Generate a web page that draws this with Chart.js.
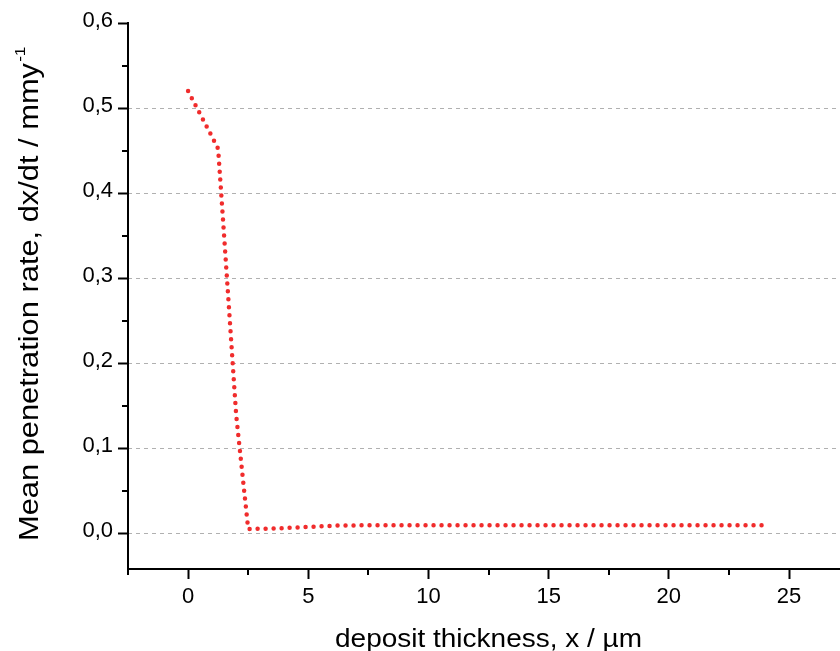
<!DOCTYPE html>
<html>
<head>
<meta charset="utf-8">
<script src="https://cdn.jsdelivr.net/npm/chart.js@4.4.1/dist/chart.umd.min.js"></script>
<style>
  html, body { margin: 0; padding: 0; background: #ffffff; }
  #wrap { width: 840px; height: 651px; position: relative; }
</style>
</head>
<body>
<div id="wrap"><canvas id="chart" width="840" height="651"></canvas></div>
<script>
// Mean penetration rate against deposit thickness
const thicknessUm = [0, 1.0, 1.25, 1.5, 1.75, 2.0, 2.25, 2.5, 3.75, 5.0, 6.25, 7.5, 10, 15, 20, 24];
const penetrationRate = [0.52, 0.466, 0.452, 0.349, 0.244, 0.139, 0.072, 0.005, 0.0058, 0.0074, 0.0091, 0.0094, 0.0095, 0.0095, 0.0095, 0.0095];

const xMajorTicks = [0, 5, 10, 15, 20, 25];
const xMinorTicks = [-2.5, 2.5, 7.5, 12.5, 17.5, 22.5];
const yMajorTicks = [0, 0.1, 0.2, 0.3, 0.4, 0.5, 0.6];
const yMinorTicks = [0.05, 0.15, 0.25, 0.35, 0.45, 0.55];

const xTitle = 'deposit thickness, x / µm';
const yTitle = 'Mean penetration rate, dx/dt / mmy';
const yTitleSup = '-1';

const FONT = '"Liberation Sans", Arial, Helvetica, sans-serif';

// Axis lines, minor ticks and the axis titles (the y title carries a superscript)
const axisDecor = {
  id: 'axisDecor',
  afterDraw(chart) {
    const { ctx, chartArea, scales } = chart;
    const { left, right, top, bottom } = chartArea;
    ctx.save();
    ctx.strokeStyle = '#000';
    ctx.lineWidth = 2;
    ctx.beginPath();
    ctx.moveTo(left, top - 1);
    ctx.lineTo(left, bottom + 1);
    ctx.moveTo(left - 1, bottom);
    ctx.lineTo(right, bottom);
    yMinorTicks.forEach(v => {
      const py = Math.round(scales.y.getPixelForValue(v));
      ctx.moveTo(left - 6, py);
      ctx.lineTo(left, py);
    });
    xMinorTicks.forEach(v => {
      const px = Math.round(scales.x.getPixelForValue(v));
      if (px >= left - 1 && px <= right) {
        ctx.moveTo(px, bottom);
        ctx.lineTo(px, bottom + 6);
      }
    });
    ctx.stroke();

    ctx.fillStyle = '#000';
    ctx.textBaseline = 'alphabetic';
    ctx.textAlign = 'left';

    // x title
    ctx.font = '26px ' + FONT;
    const xw = ctx.measureText(xTitle).width;
    const xs = 307 / xw;
    ctx.save();
    ctx.translate(488.5 - 307 / 2, 647);
    ctx.scale(xs, 1);
    ctx.fillText(xTitle, 0, 0);
    ctx.restore();

    // y title, rotated, reading upwards
    ctx.font = '27px ' + FONT;
    const yw = ctx.measureText(yTitle).width;
    const ys = 478 / yw;
    ctx.save();
    ctx.translate(38, 541);
    ctx.rotate(-Math.PI / 2);
    ctx.scale(ys, 1);
    ctx.fillText(yTitle, 0, 0);
    ctx.font = '15px ' + FONT;
    ctx.fillText(yTitleSup, yw + 1, -13);
    ctx.restore();

    ctx.restore();
  }
};

const tickFont = { family: FONT, size: 22 };

new Chart(document.getElementById('chart'), {
  type: 'line',
  data: {
    datasets: [{
      data: thicknessUm.map((x, i) => ({ x: x, y: penetrationRate[i] })),
      borderColor: '#f02c2c',
      borderWidth: 4.5,
      borderDash: [0, 8],
      borderCapStyle: 'round',
      pointRadius: 0,
      tension: 0,
      fill: false
    }]
  },
  options: {
    responsive: false,
    animation: false,
    devicePixelRatio: 1,
    layout: { padding: { top: 23, left: 0, right: 0, bottom: 0 } },
    plugins: { legend: { display: false }, tooltip: { enabled: false } },
    scales: {
      x: {
        type: 'linear',
        min: -2.5,
        max: 27.12,
        afterBuildTicks: s => { s.ticks = xMajorTicks.map(v => ({ value: v })); },
        afterFit: s => { s.height = 82; },
        ticks: {
          callback: v => String(v),
          font: tickFont,
          color: '#000',
          padding: 5,
          maxRotation: 0,
          autoSkip: false
        },
        grid: {
          drawOnChartArea: false,
          drawTicks: true,
          tickLength: 10,
          tickWidth: 2,
          tickColor: '#000'
        },
        border: { display: false }
      },
      y: {
        type: 'linear',
        min: -0.042,
        max: 0.6,
        afterBuildTicks: s => { s.ticks = yMajorTicks.map(v => ({ value: v })); },
        afterFit: s => { s.width = 128; },
        ticks: {
          callback: v => v.toFixed(1).replace('.', ','),
          font: tickFont,
          color: '#000',
          padding: 5,
          labelOffset: -2.5,
          autoSkip: false
        },
        grid: {
          color: c => (c.tick && c.tick.value <= 0.55) ? '#b0b0b0' : 'rgba(0,0,0,0)',
          lineWidth: 1,
          drawTicks: true,
          tickLength: 10,
          tickWidth: 2,
          tickColor: '#000'
        },
        border: { display: false, dash: [4, 4] }
      }
    }
  },
  plugins: [axisDecor]
});
</script>
</body>
</html>
